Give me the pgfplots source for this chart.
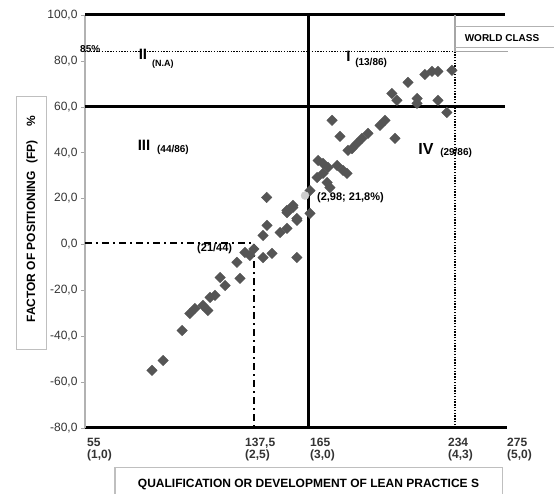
\documentclass[border=0pt]{standalone}
\usepackage{fontspec}
\setmainfont{Liberation Sans}
\usepackage{pgfplots}
\pgfplotsset{compat=1.18}

\definecolor{ptc}{HTML}{555555}
\newcommand\fs[1]{\fontsize{#1}{#1}\selectfont}

\begin{document}
\begin{tikzpicture}
\begin{axis}[
  name=ax, at={(0,0)}, anchor=south west,
  scale only axis, width=422pt, height=413pt,
  xmin=55, xmax=275, ymin=-80, ymax=100,
  clip=false,
  axis lines=left,
  axis line style={-},
  x axis line style={black, line width=3pt},
  y axis line style={gray!60, line width=1.3pt},
  ytick={-80,-60,...,100},
  yticklabel={\pgfmathprintnumber[fixed,fixed zerofill,precision=1,use comma,assume math mode=true]{\tick}},
  y tick label style={font=\fs{12}, text=black!80},
  ytick style={gray!70, thin},
  tick align=outside, major tick length=4pt,
  xtick={56,138.4,172.3,244.2,275},
  xticklabels={{55\\(1,0)},{137,5\\(2,5)},{165\\(3,0)},{234\\(4,3)},{275\\(5,0)}},
  x tick label style={align=left, anchor=north west, font=\bfseries\fs{12}, text=black!80, yshift=-3pt, inner xsep=0pt},
  xtick style={draw=none},
]
% quadrant lines
\addplot[black, line width=3pt] coordinates {(55,100) (274,100)};
\addplot[black, line width=3pt] coordinates {(55,60) (274,60)};
\addplot[black, line width=3pt] coordinates {(171.3,-80) (171.3,101)};
\addplot[black, line width=1.5pt, dash pattern=on 1.4pt off 1.4pt] coordinates {(55,84) (247.9,84)};
\addplot[gray!70, line width=1.3pt] coordinates {(247.9,84) (275.5,84)};
\addplot[black, line width=1.5pt, dash pattern=on 1.4pt off 1.4pt] coordinates {(247.9,-80) (247.9,84)};
\addplot[gray!70, line width=1.2pt] coordinates {(247.9,84) (247.9,100)};
\addplot[black, line width=2.3pt, dash pattern=on 7pt off 4pt on 2pt off 4pt] coordinates {(55,0.5) (143.1,0.5) (143.1,-80)};
% world class box
\addplot[gray!60, line width=1pt] coordinates {(247.9,94.8) (300,94.8)};
\addplot[gray!60, line width=1pt] coordinates {(247.9,85.9) (300,85.9)};

% companies
\addplot[only marks, mark=square*, mark size=3.7pt, color=ptc, mark options={rotate=45}] table {
x y
89.9 -54.9
95.7 -50.6
105.6 -37.5
109.7 -30.1
112.3 -27.9
116.5 -26.6
119.1 -28.8
120.2 -23.1
122.8 -22.2
125.4 -14.4
128.0 -17.9
135.8 -14.8
134.2 -7.8
138.4 -3.5
141.0 -4.8
143.0 -2.0
147.8 -5.7
152.5 -3.9
165.5 -5.7
147.8 3.9
149.9 8.3
149.7 20.5
156.7 5.2
160.3 7.0
165.5 10.5
160.3 13.9
163.4 17.0
163.4 16.1
160.3 14.8
165.5 11.3
172.3 13.5
172.3 23.5
176.0 29.2
176.5 36.6
179.1 35.3
179.1 31.0
181.2 27.0
181.7 33.6
182.7 24.8
183.8 54.1
186.4 34.4
187.9 47.1
189.5 32.3
191.6 31.0
192.1 41.0
194.2 41.8
196.8 44.0
199.4 46.2
202.5 48.4
208.8 51.9
211.4 54.1
216.6 46.2
215.0 65.8
217.6 62.8
223.4 70.6
228.1 63.6
228.1 61.5
232.2 74.1
235.9 75.4
239.0 75.4
239.0 62.8
243.7 57.5
246.3 75.9
};
\addplot[only marks, mark=*, mark size=4pt, color=gray!40] coordinates {(169.7,21.3)};

% annotations
\node[anchor=west, font=\bfseries\fs{10}, inner sep=0pt] at (axis cs:52.4,85.3) {85\%};
\node[font=\bfseries\fs{15}, inner sep=0pt] at (axis cs:85.2,82.8) {II};
\node[anchor=west, font=\bfseries\fs{9}, inner sep=0pt] at (axis cs:89.9,78.5) {(N.A)};
\node[font=\bfseries\fs{15}, inner sep=0pt] at (axis cs:192.4,82.0) {I};
\node[anchor=west, font=\bfseries\fs{10}, inner sep=0pt] at (axis cs:195.8,79.3) {(13/86)};
\node[font=\bfseries\fs{15}, inner sep=0pt] at (axis cs:85.8,43.2) {III};
\node[anchor=west, font=\bfseries\fs{10}, inner sep=0pt] at (axis cs:92.5,41.0) {(44/86)};
\node[font=\bfseries\fs{16}, inner sep=0pt] at (axis cs:232.8,41.8) {IV};
\node[anchor=west, font=\bfseries\fs{10}, inner sep=0pt] at (axis cs:240.1,40.1) {(29/86)};
\node[anchor=west, font=\bfseries\fs{11}, inner sep=0pt] at (axis cs:175.9,20.5) {(2,98; 21,8\%)};
\node[anchor=west, font=\bfseries\fs{11}, inner sep=0pt] at (axis cs:113.4,-1.7) {(21/44)};
\node[font=\bfseries\fs{10}, inner sep=0pt] at (axis cs:272.4,89.8) {WORLD CLASS};
\end{axis}

\node[draw=gray!50, line width=1pt, rotate=90, minimum width=253pt, minimum height=30pt,
  font=\bfseries\fs{12}] at ([shift={(-53pt,205pt)}]ax.south west)
  {\hspace{8pt}FACTOR OF POSITIONING\hspace{8pt}(FP)\hspace{14pt}\%};
\node[draw=gray!50, line width=1pt, minimum width=387pt, minimum height=32pt,
  font=\bfseries\fs{12}] at ([shift={(223.5pt,-56pt)}]ax.south west)
  {QUALIFICATION OR DEVELOPMENT OF LEAN PRACTICE S};

\pgfresetboundingbox
\path ([shift={(-85pt,-66pt)}]ax.south west) rectangle ([shift={(469pt,428pt)}]ax.south west);
\end{tikzpicture}
\end{document}
